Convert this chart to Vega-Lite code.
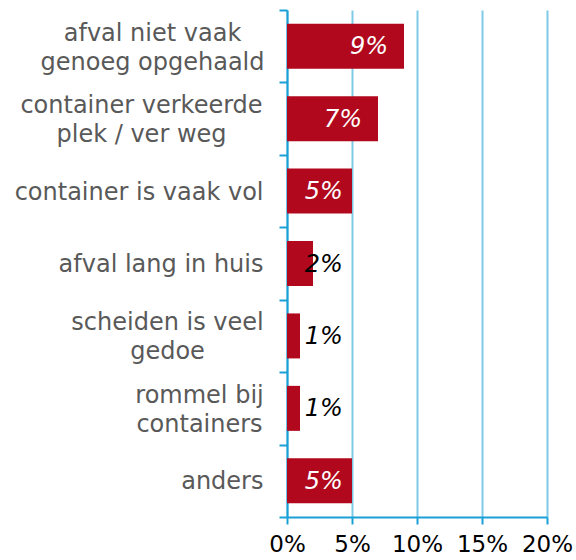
{
  "$schema": "https://vega.github.io/schema/vega-lite/v6.json",
  "width": 260,
  "height": 507,
  "autosize": {"type": "none"},
  "padding": {"left": 287, "top": 10, "right": 29, "bottom": 43},
  "config": {"view": {"stroke": null}, "font": "DejaVu Sans"},
  "data": {
    "values": [
      {"reden": "afval niet vaak\ngenoeg opgehaald", "pct": 0.09},
      {"reden": "container verkeerde\nplek / ver weg", "pct": 0.07},
      {"reden": "container is vaak vol", "pct": 0.05},
      {"reden": "afval lang in huis", "pct": 0.02},
      {"reden": "scheiden is veel\ngedoe", "pct": 0.01},
      {"reden": "rommel bij\ncontainers", "pct": 0.01},
      {"reden": "anders", "pct": 0.05}
    ]
  },
  "encoding": {
    "y": {
      "field": "reden",
      "type": "nominal",
      "sort": null,
      "scale": {"paddingInner": 0, "paddingOuter": 0},
      "axis": {
        "title": null,
        "labelExpr": "isValid(datum.value) ? split(datum.value, '\\n') : ''",
        "labelFontSize": 24,
        "labelColor": "#595959",
        "labelLimit": 300,
        "labelLineHeight": 29,
        "labelAlign": {"condition": {"test": "isValid(datum.value) && indexof(datum.value, '\\n') >= 0", "value": "center"}, "value": "right"},
        "labelOffset": {"condition": {"test": "isValid(datum.value) && indexof(datum.value, '\\n') >= 0", "value": -13}, "value": 1},
        "labelPadding": {
          "condition": [
            {"test": "indexof(datum.value + '', 'genoeg') >= 0", "value": 127},
            {"test": "indexof(datum.value + '', 'verkeerde') >= 0", "value": 138},
            {"test": "indexof(datum.value + '', 'gedoe') >= 0", "value": 112},
            {"test": "indexof(datum.value + '', 'rommel') >= 0", "value": 80}
          ],
          "value": 16
        },
        "tickSize": 8,
        "tickBand": "extent",
        "tickColor": "#1aa0d7",
        "tickWidth": 2,
        "domainColor": "#1aa0d7",
        "domainWidth": 2,
        "grid": false
      }
    }
  },
  "layer": [
    {
      "mark": {"type": "bar", "color": "#b1081d", "size": 45},
      "encoding": {
        "x": {
          "field": "pct",
          "type": "quantitative",
          "scale": {"domain": [0, 0.2], "nice": false},
          "axis": {
            "title": null,
            "values": [0, 0.05, 0.1, 0.15, 0.2],
            "format": ".0%",
            "labelFontSize": 23,
            "labelColor": "black",
            "labelOverlap": false,
            "labelFlush": false,
            "labelBound": false,
            "labelPadding": 9,
            "tickSize": 7,
            "tickColor": "#1aa0d7",
            "tickWidth": 2,
            "domainColor": "#1aa0d7",
            "domainWidth": 2,
            "grid": true,
            "gridColor": "#7fcbe7",
            "gridWidth": 2
          }
        }
      }
    },
    {
      "transform": [{"filter": "datum.pct >= 0.07"}],
      "mark": {"type": "text", "align": "right", "baseline": "middle", "dx": -16, "dy": 1, "fontStyle": "italic", "fontSize": 24, "color": "white"},
      "encoding": {
        "x": {"field": "pct", "type": "quantitative"},
        "text": {"field": "pct", "type": "quantitative", "format": ".0%"}
      }
    },
    {
      "transform": [{"filter": "datum.pct < 0.07"}],
      "mark": {"type": "text", "align": "right", "baseline": "middle", "dy": 1, "fontStyle": "italic", "fontSize": 24},
      "encoding": {
        "x": {"datum": 0.043, "type": "quantitative"},
        "text": {"field": "pct", "type": "quantitative", "format": ".0%"},
        "color": {"condition": {"test": "datum.pct >= 0.05", "value": "white"}, "value": "black"}
      }
    }
  ]
}
